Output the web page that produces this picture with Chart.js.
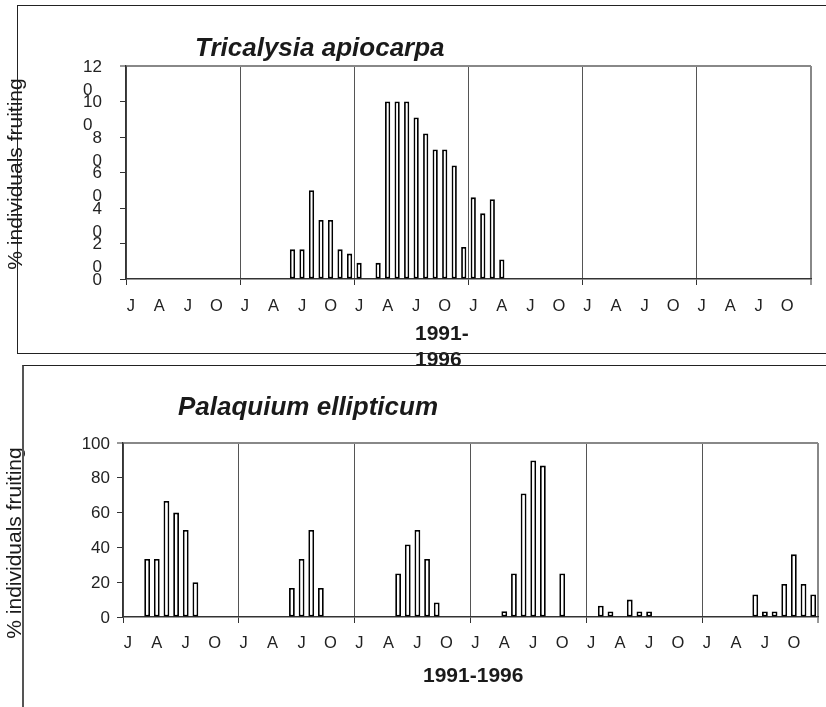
<!DOCTYPE html>
<html>
<head>
<meta charset="utf-8">
<title>% individuals fruiting 1991-1996</title>
<script src="https://cdn.jsdelivr.net/npm/chart.js@4.4.1/dist/chart.umd.min.js"></script>
<style>
  html, body { margin: 0; padding: 0; background: #fff; }
  body { position: relative; width: 826px; height: 707px; overflow: hidden; }
  canvas { position: absolute; left: 0; }
  #chartTop { top: 0; }
  #chartBottom { top: 360px; }
  .frame { position: absolute; box-sizing: border-box; z-index: 2; pointer-events: none; }
  #frameTop { left: 17px; top: 5px; width: 900px; height: 349px; border: 1px solid #222; }
  #frameBottom { left: 22px; top: 365px; width: 900px; height: 400px; border-top: 1px solid #222; border-left: 2px solid #555; }
</style>
</head>
<body>
<canvas id="chartTop" width="826" height="380"></canvas>
<canvas id="chartBottom" width="826" height="347"></canvas>
<div class="frame" id="frameTop"></div>
<div class="frame" id="frameBottom"></div>
<script>
// x axis: every month from Jan 1991 to Dec 1996
const years = ['1991', '1992', '1993', '1994', '1995', '1996'];
const months = ['Jan', 'Feb', 'Mar', 'Apr', 'May', 'Jun', 'Jul', 'Aug', 'Sep', 'Oct', 'Nov', 'Dec'];
const categories = [];
years.forEach(function (y) {
  months.forEach(function (m) { categories.push(m + ' ' + y); });
});

// % individuals fruiting, one row per year (null = no bar)
const tricalysiaValues = [
  null, null, null, null, null, null, null, null, null, null, null, null,
  null, null, null, null, null, 16.7, 16.7, 50, 33.3, 33.3, 16.7, 14.3,
  9.1, null, 9.1, 100, 100, 100, 91, 82, 73, 73, 64, 18,
  46, 37, 45, 11, null, null, null, null, null, null, null, null,
  null, null, null, null, null, null, null, null, null, null, null, null,
  null, null, null, null, null, null, null, null, null, null, null, null
];
const palaquiumValues = [
  null, null, 33.3, 33.3, 66.7, 60, 50, 20, null, null, null, null,
  null, null, null, null, null, 16.7, 33.3, 50, 16.7, null, null, null,
  null, null, null, null, 25, 41.7, 50, 33.3, 8.3, null, null, null,
  null, null, null, 3.3, 25, 71, 90, 87, null, 25, null, null,
  null, 6.5, 3.2, null, 10, 3.2, 3.2, null, null, null, null, null,
  null, null, null, null, null, 12.9, 3.2, 3.2, 19, 36, 19, 12.9
];

const tricalysiaYTicks = [0, 20, 40, 60, 80, 100, 120];
const palaquiumYTicks = [0, 20, 40, 60, 80, 100];

const FONT = '"Liberation Sans", Arial, sans-serif';
Chart.defaults.font.family = FONT;
Chart.defaults.color = '#222';

// free text (titles) drawn on the canvas
function captions(items) {
  return {
    id: 'captions',
    afterDraw: function (chart) {
      const ctx = chart.ctx;
      items.forEach(function (it) {
        ctx.save();
        ctx.font = it.font;
        ctx.fillStyle = '#1a1a1a';
        ctx.textAlign = it.align || 'left';
        ctx.textBaseline = it.baseline || 'middle';
        ctx.translate(it.x, it.y);
        if (it.rotate) ctx.rotate(it.rotate);
        ctx.fillText(it.text, 0, 0);
        ctx.restore();
      });
    }
  };
}

function fruitingChart(canvasId, values, yTicks, opts) {
  const yMax = yTicks[yTicks.length - 1];
  const last = categories.length;
  return new Chart(document.getElementById(canvasId), {
    type: 'bar',
    data: {
      labels: categories,
      datasets: [{
        data: values,
        backgroundColor: '#fff',
        borderColor: '#000',
        borderWidth: 1.8,
        borderSkipped: false,
        barPercentage: opts.barPct,
        categoryPercentage: 1
      }]
    },
    options: {
      responsive: false,
      animation: false,
      layout: { padding: opts.padding },
      plugins: { legend: { display: false }, tooltip: { enabled: false } },
      scales: {
        x: {
          afterFit: function (s) { s.height = 40; },
          grid: {
            offset: true,
            tickLength: 6,
            color: function (c) {
              const i = c.index === undefined ? last : c.index;
              if (i === last) return '#888';
              return i % 12 === 0 ? '#555' : 'transparent';
            },
            lineWidth: function (c) { return c.index === undefined ? 2 : 1; },
            tickColor: function (c) {
              const i = c.index === undefined ? 0 : c.index;
              return i % 12 === 0 ? '#333' : 'transparent';
            },
            tickWidth: 1
          },
          border: { color: '#333', width: 1.5 },
          ticks: {
            autoSkip: false,
            maxRotation: 0,
            padding: opts.xPad,
            font: { size: 16.5 },
            callback: function (v, i) { return i % 3 === 0 ? months[i % 12][0] : ''; }
          }
        },
        y: {
          min: yTicks[0],
          max: yMax,
          afterFit: function (s) { s.width = opts.yWidth; },
          grid: {
            tickLength: 6,
            tickColor: '#333',
            tickWidth: 1,
            color: function (c) { return c.tick && c.tick.value === yMax ? '#888' : 'transparent'; },
            lineWidth: function (c) { return c.tick && c.tick.value === yMax ? 2 : 1; }
          },
          border: { color: '#333', width: 1.5 },
          ticks: {
            autoSkip: false,
            stepSize: yTicks[1] - yTicks[0],
            padding: opts.yPad,
            labelOffset: 1,
            font: { size: 17, lineHeight: 1.35 },
            callback: opts.yLabel
          }
        }
      }
    },
    plugins: [captions(opts.captions)]
  });
}

// the top chart's y labels wrap: "12" over "0"
function wrappedLabel(v) {
  if (v === 0) return '0';
  const head = String(v).slice(0, -1);
  return ['', head, '0' + '  '.repeat(head.length - 1)];
}

fruitingChart('chartTop', tricalysiaValues, tricalysiaYTicks, {
  barPct: 0.55,
  padding: { left: 0, right: 15, top: 66, bottom: 61 },
  yWidth: 126,
  yPad: 18,
  xPad: 12,
  yLabel: wrappedLabel,
  captions: [
    { text: 'Tricalysia apiocarpa', x: 195, y: 56, baseline: 'alphabetic', font: 'italic bold 26px ' + FONT },
    { text: '% individuals fruiting', x: 16, y: 174, align: 'center', rotate: -Math.PI / 2, font: '21px ' + FONT },
    { text: '1991-', x: 415, y: 334, font: 'bold 21px ' + FONT },
    { text: '1996', x: 415, y: 360, font: 'bold 21px ' + FONT }
  ]
});

fruitingChart('chartBottom', palaquiumValues, palaquiumYTicks, {
  barPct: 0.6,
  padding: { left: 0, right: 8, top: 83, bottom: 50 },
  yWidth: 123,
  yPad: 7,
  xPad: 11,
  yLabel: function (v) { return String(v); },
  captions: [
    { text: 'Palaquium ellipticum', x: 178, y: 55, baseline: 'alphabetic', font: 'italic bold 26px ' + FONT },
    { text: '% individuals fruiting', x: 15, y: 183, align: 'center', rotate: -Math.PI / 2, font: '21px ' + FONT },
    { text: '1991-1996', x: 423, y: 316, font: 'bold 21px ' + FONT }
  ]
});
</script>
</body>
</html>
